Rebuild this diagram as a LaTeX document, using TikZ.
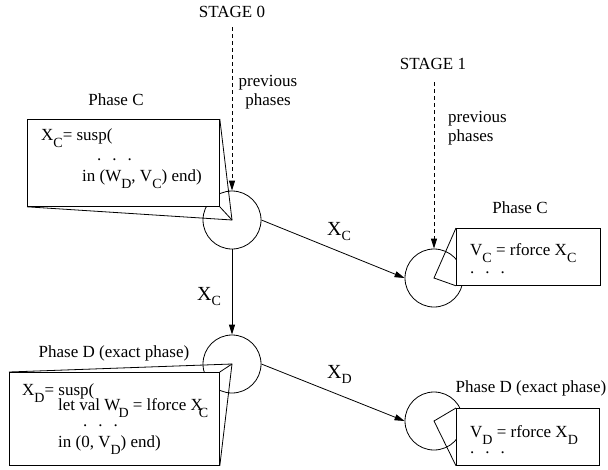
\documentclass[tikz,border=0pt]{standalone}
\usepackage{fontspec}
\setmainfont{Liberation Serif}
\usetikzlibrary{arrows.meta}
\newcommand{\sbx}[1]{\raisebox{-7pt}{\fontsize{14}{14}\selectfont #1}}
\newcommand{\sbl}[1]{\raisebox{-5pt}{\fontsize{14}{14}\selectfont #1}}
\newcommand{\dotrow}{.\hspace{11pt}.\hspace{11pt}.}
\begin{document}
\begin{tikzpicture}[x=1pt,y=-1pt,font=\fontsize{17}{19}\selectfont,
  ph/.style={circle,draw,minimum size=58pt,inner sep=0pt,line width=0.8pt},
  boxx/.style={draw,fill=white,line width=0.8pt,inner sep=0pt,anchor=north west},
  co/.style={line width=0.8pt},
  flow/.style={line width=0.8pt,-{Triangle[length=10pt,width=6pt]}},
  stg/.style={line width=0.8pt,dash pattern=on 4pt off 3pt,-{Triangle[length=10pt,width=6pt]}},
  txt/.style={anchor=base west,inner sep=0pt},
  lbl/.style={anchor=base,inner sep=0pt},
  arl/.style={anchor=base west,inner sep=0pt,font=\fontsize{20}{20}\selectfont}]
\useasboundingbox (0,0) rectangle (608,469);
% phases (circles)
\node[ph] (c1) at (232,220) {};
\node[ph] (c2) at (434,278) {};
\node[ph] (c3) at (232,364) {};
\node[ph] (c4) at (434,421) {};
% boxes
\node[boxx,minimum width=192pt,minimum height=87pt] (b1) at (27,119) {};
\node[boxx,minimum width=144pt,minimum height=57pt] (b2) at (456,228) {};
\node[boxx,minimum width=210pt,minimum height=93pt] (b3) at (9,372) {};
\node[boxx,minimum width=143pt,minimum height=57pt] (b4) at (456,408) {};
% callout lines
\draw[co] (b1.north east) -- (c1.center) -- (b1.south west);
\draw[co] (b1.south east) -- (c1.center);
\draw[co] (b2.north west) -- (c2.center) -- (b2.south west);
\draw[co] (b3.north west) -- (c3.center) -- (b3.south east);
\draw[co] (b3.north east) -- (c3.center);
\draw[co] (b4.north west) -- (c4.center) -- (b4.south west);
% box texts
\node[txt] (t1a) at (41,140) {X\sbx{C}= susp(};
\node[txt] (t1b) at (97,160) {\dotrow};
\node[txt] (t1c) at (82,181) {in (W\sbx{D}, V\sbx{C}) end)};
\node[txt] (t2a) at (470,255) {V\sbx{C} = rforce X\sbx{C}};
\node[txt] (t2b) at (470,273) {\dotrow};
\node[txt] (t3a) at (22,395) {X\sbx{D}= susp(};
\node[txt] (t3b) at (58,410) {let val W\kern-2pt\sbx{D} = lforce X\kern-4pt\sbx{C}};
\node[txt] (t3c) at (83,426) {\dotrow};
\node[txt] (t3d) at (58,447) {in (0, V\sbx{D}) end)};
\node[txt] (t4a) at (470,437) {V\sbx{D} = rforce X\sbx{D}};
\node[txt] (t4b) at (470,453) {\dotrow};
% phase labels
\node[lbl] (p1) at (116,105) {Phase C};
\node[lbl] (p2) at (520,213) {Phase C};
\node[lbl] (p3) at (114,357) {Phase D (exact phase)};
\node[lbl] (p4) at (531,392) {Phase D (exact phase)};
% stages
\node[lbl] (s0t) at (232,17) {STAGE 0};
\node[lbl] (s1t) at (433,69) {STAGE 1};
\coordinate (s0) at (232,27);
\coordinate (s1) at (434,82);
\draw[stg] (s0) -- (c1.north);
\draw[stg] (s1) -- (c2.north);
\node[lbl,align=center] (pp0) at (268,105) {previous\\phases};
\node[anchor=base west,inner sep=0pt,align=left] (pp1) at (448,141) {previous\\phases};
% flows
\draw[flow] (c1.east) -- (c2.west);
\draw[flow] (c1.south) -- (c3.north);
\draw[flow] (c3.east) -- (c4.west);
\node[arl] (l1) at (327,235) {X\sbl{C}};
\node[arl] (l2) at (197,300) {X\sbl{C}};
\node[arl] (l3) at (327,378) {X\sbl{D}};
\end{tikzpicture}
\end{document}
